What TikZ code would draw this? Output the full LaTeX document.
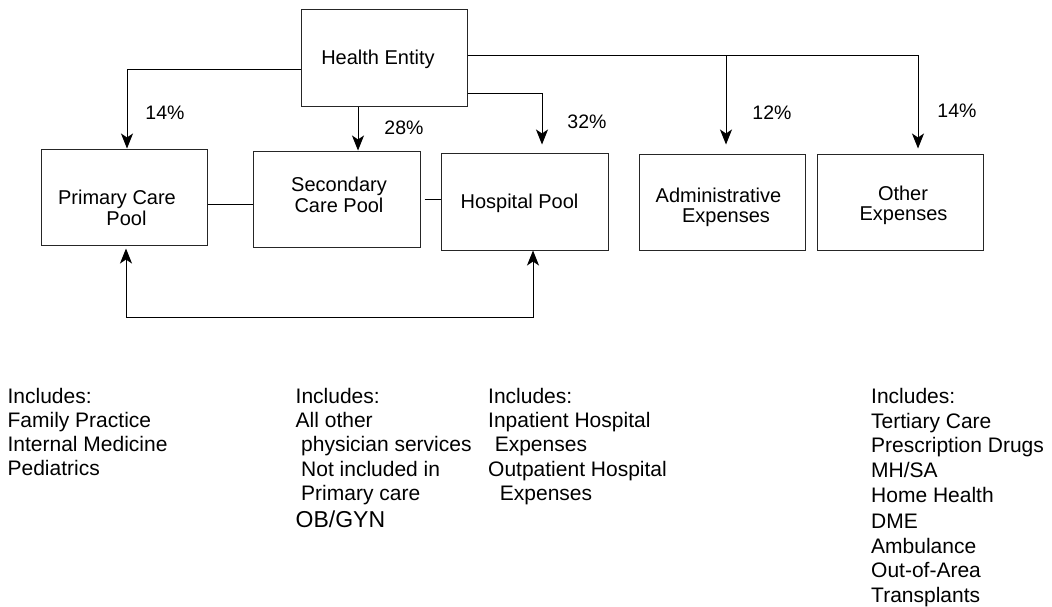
\documentclass[tikz,border=0pt]{standalone}
\usepackage{fontspec}
\setmainfont{Liberation Sans}
\usetikzlibrary{arrows.meta,calc}

\tikzset{
  tip/.tip={Stealth[length=15pt,width=12pt,inset=4pt]},
  box/.style={draw=black!85, line width=1pt, rectangle, inner sep=0pt},
  link/.style={draw=black, line width=1pt},
  arr/.style={link, -tip},
  dbl/.style={link, tip-tip},
  boxtxt/.style={font=\fontsize{20}{24}\selectfont, anchor=base, inner sep=0pt},
  pct/.style={font=\fontsize{19.5}{24}\selectfont, anchor=base, inner sep=0pt},
  lst/.style={font=\fontsize{21}{24}\selectfont, anchor=base west, inner sep=0pt},
}

\begin{document}
\begin{tikzpicture}[x=1pt, y=-1pt]
\useasboundingbox (0,0) rectangle (1052,606);

% boxes
\node[box, minimum width=166pt, minimum height=97pt] (he) at (384,57.5) {};
\node[box, minimum width=166pt, minimum height=96pt] (pc) at (124,197) {};
\node[box, minimum width=167pt, minimum height=96pt] (sc) at (336.5,199) {};
\node[box, minimum width=167pt, minimum height=97pt] (hp) at (524.5,201.5) {};
\node[box, minimum width=166pt, minimum height=96pt] (ad) at (722,202) {};
\node[box, minimum width=166pt, minimum height=96pt] (ot) at (900,202) {};

% box captions
\node[boxtxt] (heT) at (378,64) {Health Entity};
\node[boxtxt] (pcT1) at (117,204) {Primary Care};
\node[boxtxt] (pcT2) at (126.5,225) {Pool};
\node[boxtxt] (scT1) at (339,191) {Secondary};
\node[boxtxt] (scT2) at (339,212) {Care Pool};
\node[boxtxt] (hpT) at (519.5,208) {Hospital Pool};
\node[boxtxt] (adT1) at (718.5,202) {Administrative};
\node[boxtxt] (adT2) at (726,222.5) {Expenses};
\node[boxtxt] (otT1) at (903,200) {Other};
\node[boxtxt] (otT2) at (903.5,220) {Expenses};

% funding flows from the health entity
\draw[arr] ([yshift=-11.5pt]he.west) -| ([xshift=3pt]pc.north);
\draw[arr] ([xshift=-26pt]he.south) -- ([xshift=-26pt]he.south |- sc.north);
\draw[arr, shorten >=8pt] ([yshift=-35.5pt]he.east) -| ([xshift=17.5pt]hp.north);
\draw[arr, shorten >=5pt] ([yshift=2.5pt]he.east) -| ([xshift=18pt]ot.north);
\coordinate (bus) at ([yshift=2.5pt]he.east);
\draw[arr, shorten >=9pt] ([xshift=4pt]ad.north |- bus) -- ([xshift=4pt]ad.north);

% percentages
\node[pct] (p1) at (165,119) {14\%};
\node[pct] (p2) at (404,134) {28\%};
\node[pct] (p3) at (587,128) {32\%};
\node[pct] (p4) at (772,119) {12\%};
\node[pct] (p5) at (957,117) {14\%};

% links between pools
\draw[link] ([yshift=-7pt]pc.east) -- ([yshift=-7pt]pc.east -| sc.west);
\draw[link] ([xshift=4pt]sc.east) -- (sc.east -| hp.west);
\coordinate (lp) at (0,317);
\draw[dbl, shorten <=3pt] ([xshift=2pt]pc.south) -- ([xshift=2pt]pc.south |- lp)
  -- ([xshift=8.5pt]hp.south |- lp) -- ([xshift=8.5pt]hp.south);

% lists of included services
\foreach \t [count=\i] in {Includes:, Family Practice, Internal Medicine, Pediatrics}
  \node[lst] (la\i) at (7.4,{403+24.3*(\i-1)}) {\t};

\node[lst] (lb1) at (295.5,403) {Includes:};
\node[lst] (lb2) at (295.5,427.3) {All other};
\node[lst] (lb3) at (301,451.5) {physician services};
\node[lst] (lb4) at (301,476) {Not included in};
\node[lst] (lb5) at (301,500) {Primary care};
\node[lst, font=\fontsize{23}{26}\selectfont] (lb6) at (295.5,527) {OB/GYN};

\node[lst] (lc1) at (488,403) {Includes:};
\node[lst] (lc2) at (488,427.3) {Inpatient Hospital};
\node[lst] (lc3) at (494.6,451.5) {Expenses};
\node[lst] (lc4) at (488,476) {Outpatient Hospital};
\node[lst] (lc5) at (499.7,500) {Expenses};

\foreach \t/\y [count=\i] in {Includes:/403, Tertiary Care/428, Prescription Drugs/452,
    {MH/SA}/477, Home Health/502, DME/528, Ambulance/553, Out-of-Area/577, Transplants/602}
  \node[lst] (ld\i) at (871,\y) {\t};
\end{tikzpicture}
\end{document}
